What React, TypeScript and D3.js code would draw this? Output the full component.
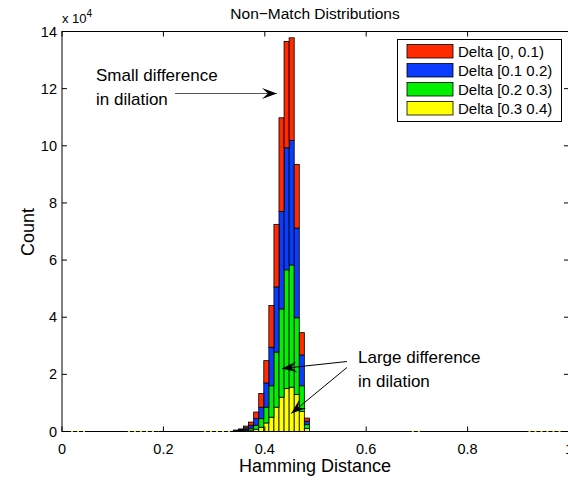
import React from "react";
import * as d3 from "d3";

// bin centres (Hamming distance) and stacked counts per delta range
const binCenters = [0.343, 0.353, 0.363, 0.373, 0.383, 0.393, 0.403, 0.413, 0.423, 0.433, 0.443, 0.453, 0.463, 0.473, 0.483];
const binWidth = 0.01;

const delta3 = [100, 150, 300, 500, 800, 1500, 3000, 5000, 8500, 12000, 15000, 15500, 13000, 7000, 1000]; // yellow
const delta2 = [100, 200, 400, 700, 1400, 3000, 5500, 11000, 19300, 30900, 41600, 42800, 26800, 9000, 1400]; // green
const delta1 = [150, 250, 600, 1000, 2300, 4000, 8500, 13500, 22800, 34100, 42700, 43600, 31400, 10800, 1200]; // blue
const delta0 = [150, 300, 600, 1100, 2300, 4800, 7800, 14600, 21900, 32800, 37200, 35900, 22300, 7800, 1100]; // red

// empty bins drawn flat on the baseline
const emptyRanges = [[0.006, 0.05], [0.13, 0.19], [0.28, 0.338], [0.69, 0.71], [0.92, 0.99]];

const legendLabels = ["Delta [0, 0.1)", "Delta [0.1 0.2)", "Delta [0.2 0.3)", "Delta [0.3 0.4)"];
const colors = ["#ff2a00", "#0a3cff", "#00f000", "#ffff00"];

const xTicks = [0, 0.2, 0.4, 0.6, 0.8, 1];
const yTicks = [0, 20000, 40000, 60000, 80000, 100000, 120000, 140000];

const width = 568;
const height = 480;
const font = "'Liberation Sans', Arial, Helvetica, sans-serif";

function arrowHead(x1: number, y1: number, x2: number, y2: number, len = 15, half = 5.5) {
  const a = Math.atan2(y2 - y1, x2 - x1);
  const c = Math.cos(a), s = Math.sin(a);
  const bx = x2 - len * c, by = y2 - len * s;
  const nx = x2 - len * 0.6 * c, ny = y2 - len * 0.6 * s;
  return `M${x2},${y2} L${bx - half * s},${by + half * c} L${nx},${ny} L${bx + half * s},${by - half * c} Z`;
}

export default function App() {
  const x = d3.scaleLinear().domain([0, 1]).range([62, 569]);
  const y = d3.scaleLinear().domain([0, 140000]).range([431.5, 31.5]);

  const rows = binCenters.map((c, i) => ({ c, y3: delta3[i], y2: delta2[i], y1: delta1[i], y0: delta0[i] }));
  const stack = d3.stack<any>().keys(["y3", "y2", "y1", "y0"]);
  const layers = stack(rows);
  const layerColor = [colors[3], colors[2], colors[1], colors[0]];

  const arrows = [
    { from: [0.223, 118300], to: [0.424, 118300], color: "#555" },
    { from: [0.562, 24500], to: [0.434, 22050], color: "#000" },
    { from: [0.562, 22400], to: [0.452, 6300], color: "#000" },
  ];

  return (
    <svg width={width} height={height} style={{ position: "absolute", left: 0, top: 0, background: "#fff" }} fontFamily={font}>
      <rect x={0} y={0} width={width} height={height} fill="#fff" />
      {/* bars */}
      {layers.map((layer, li) =>
        layer.map((d, i) => (
          <rect
            key={`${li}-${i}`}
            x={x(rows[i].c - binWidth / 2)}
            y={y(d[1])}
            width={x(binWidth) - x(0)}
            height={Math.max(0, y(d[0]) - y(d[1]))}
            fill={layerColor[li]}
            stroke="#000"
            strokeWidth={0.8}
          />
        ))
      )}

      {/* axes box */}
      <rect x={x(0)} y={y(140000)} width={x(1) - x(0)} height={y(0) - y(140000)} fill="none" stroke="#000" strokeWidth={1} />
      {emptyRanges.map((r, i) => (
        <line key={i} x1={x(r[0])} x2={x(r[1])} y1={y(0)} y2={y(0)} stroke="#e6e600" strokeWidth={1} strokeDasharray="2,4" />
      ))}

      {xTicks.map((t) => (
        <g key={t}>
          <line x1={x(t)} x2={x(t)} y1={y(0)} y2={y(0) - 5} stroke="#000" />
          <line x1={x(t)} x2={x(t)} y1={y(140000)} y2={y(140000) + 5} stroke="#000" />
          <text x={x(t)} y={454} textAnchor="middle" fontSize={14.5}>{t}</text>
        </g>
      ))}
      {yTicks.map((t) => (
        <g key={t}>
          <line x1={x(0)} x2={x(0) + 5} y1={y(t)} y2={y(t)} stroke="#000" />
          <line x1={x(1)} x2={x(1) - 5} y1={y(t)} y2={y(t)} stroke="#000" />
          <text x={57} y={y(t) + 5} textAnchor="end" fontSize={14.5}>{t / 10000}</text>
        </g>
      ))}
      <text x={62} y={23} fontSize={13}>
        x 10<tspan dy={-6} fontSize={10}>4</tspan>
      </text>

      <text x={315} y={18.5} textAnchor="middle" fontSize={15.5}>Non−Match Distributions</text>
      <text x={315} y={472} textAnchor="middle" fontSize={18}>Hamming Distance</text>
      <text transform="translate(34,232) rotate(-90)" textAnchor="middle" fontSize={18}>Count</text>

      {/* legend */}
      <rect x={397.5} y={39.5} width={164} height={82} fill="#fff" stroke="#000" />
      {legendLabels.map((l, i) => (
        <g key={l}>
          <rect x={407} y={44.5 + i * 19} width={46} height={13.5} fill={colors[i]} stroke="#000" strokeWidth={0.8} />
          <text x={458} y={56.5 + i * 19} fontSize={15}>{l}</text>
        </g>
      ))}

      {/* annotations */}
      <text x={96} y={81} fontSize={17}>Small difference</text>
      <text x={96} y={105} fontSize={17}>in dilation</text>
      <text x={358} y={363} fontSize={17}>Large difference</text>
      <text x={358} y={387} fontSize={17}>in dilation</text>
      {arrows.map((a, i) => {
        const x1 = x(a.from[0]), y1 = y(a.from[1]), x2 = x(a.to[0]), y2 = y(a.to[1]);
        return (
          <g key={i}>
            <line x1={x1} y1={y1} x2={x2} y2={y2} stroke={a.color} strokeWidth={1} />
            <path d={arrowHead(x1, y1, x2, y2)} fill="#000" />
          </g>
        );
      })}
    </svg>
  );
}
